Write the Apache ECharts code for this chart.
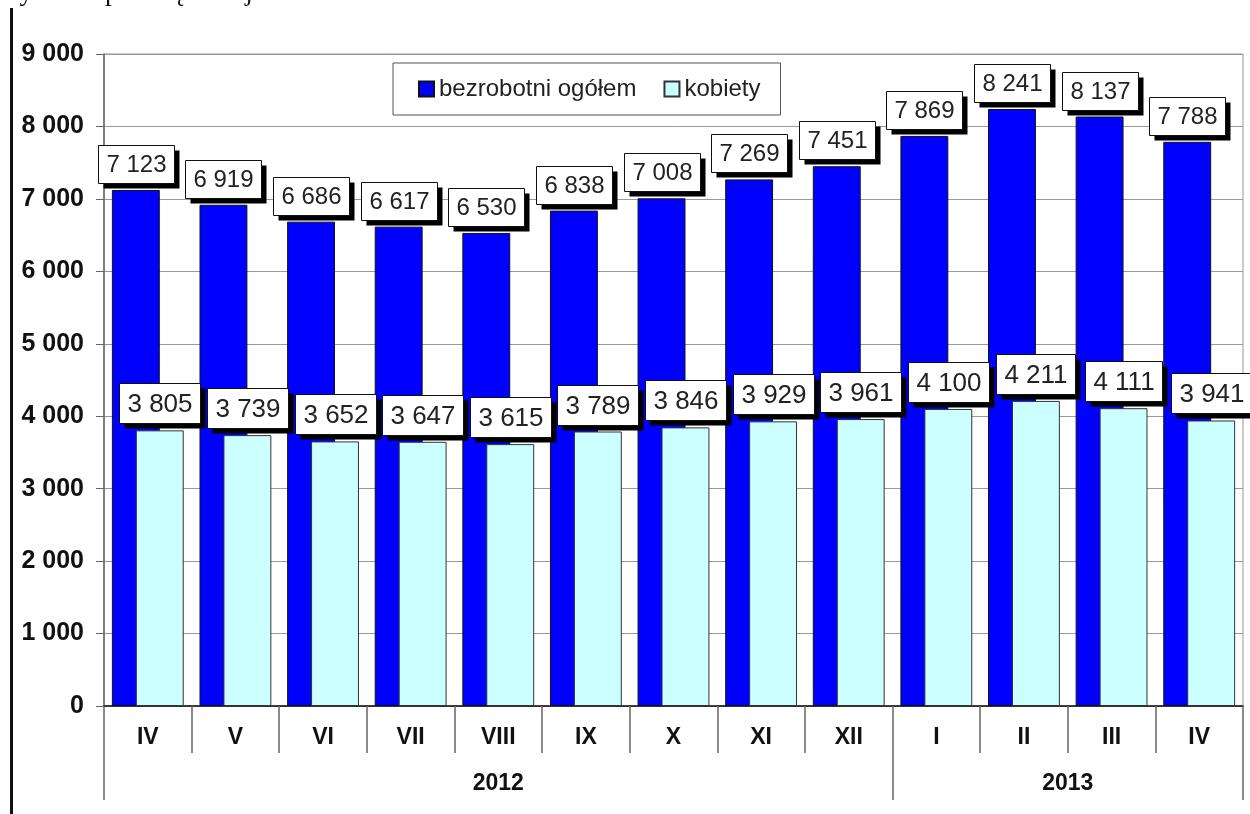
<!DOCTYPE html>
<html>
<head>
<meta charset="utf-8">
<script src="https://cdn.jsdelivr.net/npm/echarts@6/dist/echarts.min.js"></script>
<style>
html,body{margin:0;padding:0;background:#fff;}
#c{width:1250px;height:814px;}
</style>
</head>
<body>
<div id="c"></div>
<script>
const months = ['IV','V','VI','VII','VIII','IX','X','XI','XII','I','II','III','IV'];
const totalUnemployed = [7123, 6919, 6686, 6617, 6530, 6838, 7008, 7269, 7451, 7869, 8241, 8137, 7788];
const women = [3805, 3739, 3652, 3647, 3615, 3789, 3846, 3929, 3961, 4100, 4211, 4111, 3941];
const years = ['2012', '2013'];
const yearBounds = [0, 9, 13];
const yearCenters = [4.5, 11];
const seriesNames = ['bezrobotni ogółem', 'kobiety'];

const fmt = v => String(v).replace(/\B(?=(\d{3})+(?!\d))/g, ' ');
const FONT = 'Liberation Sans, Arial, sans-serif';
const CAT_GAP = 0.18;   // barCategoryGap
const BAR_GAP = -0.5;   // barGap

const measureCtx = document.createElement('canvas').getContext('2d');
function textWidth(t, size) {
  measureCtx.font = size + 'px ' + FONT;
  return measureCtx.measureText(t).width;
}

// label boxes with hard drop shadow, placed on the bars via the library's coordinate system
function labelSeries(values, barIndex, fontSize) {
  return {
    type: 'custom', xAxisIndex: 0, yAxisIndex: 0, z: 10, silent: true,
    data: values.map((v, i) => [i, v]),
    renderItem: (params, api) => {
      const idx = api.value(0), v = api.value(1);
      const pt = api.coord([idx, v]);
      const band = api.size([1, 0])[0];
      const total = band * (1 - CAT_GAP);
      const w = total / (2 + BAR_GAP);
      const cx = pt[0] - total / 2 + w / 2 + barIndex * w * (1 + BAR_GAP);
      const txt = fmt(v);
      const bw = Math.round(textWidth(txt, fontSize) + 16);
      const bh = fontSize + 14;
      const x0 = Math.round(cx - bw / 2) + 0.5;
      const y0 = Math.round(pt[1] - 7 - bh) + 0.5;
      return {
        type: 'group',
        children: [
          { type: 'rect', shape: { x: x0 + 5, y: y0 + 5, width: bw, height: bh }, style: { fill: '#000' } },
          { type: 'rect', shape: { x: x0, y: y0, width: bw, height: bh }, style: { fill: '#fff', stroke: '#111', lineWidth: 1 } },
          { type: 'text', x: x0 + bw / 2, y: y0 + bh / 2 + 1,
            style: { text: txt, fontSize: fontSize, fontFamily: FONT, fill: '#222', align: 'center', verticalAlign: 'middle' } }
        ]
      };
    }
  };
}

const chart = echarts.init(document.getElementById('c'));
chart.setOption({
  animation: false,
  textStyle: { fontFamily: FONT },
  graphic: [
    { type: 'line', shape: { x1: 11.5, y1: 8, x2: 11.5, y2: 814 }, style: { stroke: '#111', lineWidth: 3 } },
    { type: 'text', left: 0, top: -21, style: { text: 'wynosi o połowę mniej.', font: '27px "Liberation Serif", serif', fill: '#111' } }
  ],
  grid: { left: 104, right: 7, top: 54, bottom: 108, show: true, borderColor: '#999', borderWidth: 1 },
  legend: {
    left: 393, top: 63,
    data: seriesNames,
    icon: 'rect', itemWidth: 15, itemHeight: 15, itemGap: 27,
    padding: [14, 20, 14, 25],
    borderColor: '#555', borderWidth: 1, backgroundColor: '#fff',
    textStyle: { fontSize: 24, color: '#222', fontFamily: FONT }
  },
  xAxis: [
    {
      type: 'category', data: months, gridIndex: 0, position: 'bottom',
      axisLine: { lineStyle: { color: '#111', width: 1.5 } },
      axisTick: { show: true, interval: 0, length: 47, lineStyle: { color: '#666', width: 1.5 } },
      axisLabel: { interval: 0, margin: 20, fontSize: 23, fontWeight: 'bold', color: '#111', fontFamily: FONT },
      splitLine: { show: false }
    },
    {
      type: 'value', min: 0, max: 13, gridIndex: 0, position: 'bottom',
      axisLine: { show: false },
      axisTick: { show: true, customValues: yearBounds, length: 94, lineStyle: { color: '#666', width: 1.5 } },
      axisLabel: { show: true, customValues: yearCenters, margin: 66, fontSize: 23, fontWeight: 'bold', color: '#111', fontFamily: FONT,
        formatter: v => years[yearCenters.indexOf(v)] },
      splitLine: { show: false }
    }
  ],
  yAxis: {
    type: 'value', min: 0, max: 9000, interval: 1000,
    axisLine: { show: true, lineStyle: { color: '#666', width: 1.5 } },
    axisTick: { show: true, length: 8, lineStyle: { color: '#666' } },
    axisLabel: { margin: 20, fontSize: 25, fontWeight: 'bold', color: '#111', fontFamily: FONT, formatter: v => fmt(v) },
    splitLine: { lineStyle: { color: '#999', width: 1 } }
  },
  series: [
    {
      name: seriesNames[0], type: 'bar', xAxisIndex: 0, data: totalUnemployed,
      barGap: (BAR_GAP * 100) + '%', barCategoryGap: (CAT_GAP * 100) + '%',
      itemStyle: { color: '#0000ff', borderColor: '#111', borderWidth: 1 }
    },
    {
      name: seriesNames[1], type: 'bar', xAxisIndex: 0, data: women,
      barGap: (BAR_GAP * 100) + '%', barCategoryGap: (CAT_GAP * 100) + '%',
      itemStyle: { color: '#ccffff', borderColor: '#333', borderWidth: 1 }
    },
    labelSeries(totalUnemployed, 0, 24),
    labelSeries(women, 1, 26)
  ]
});
</script>
</body>
</html>
